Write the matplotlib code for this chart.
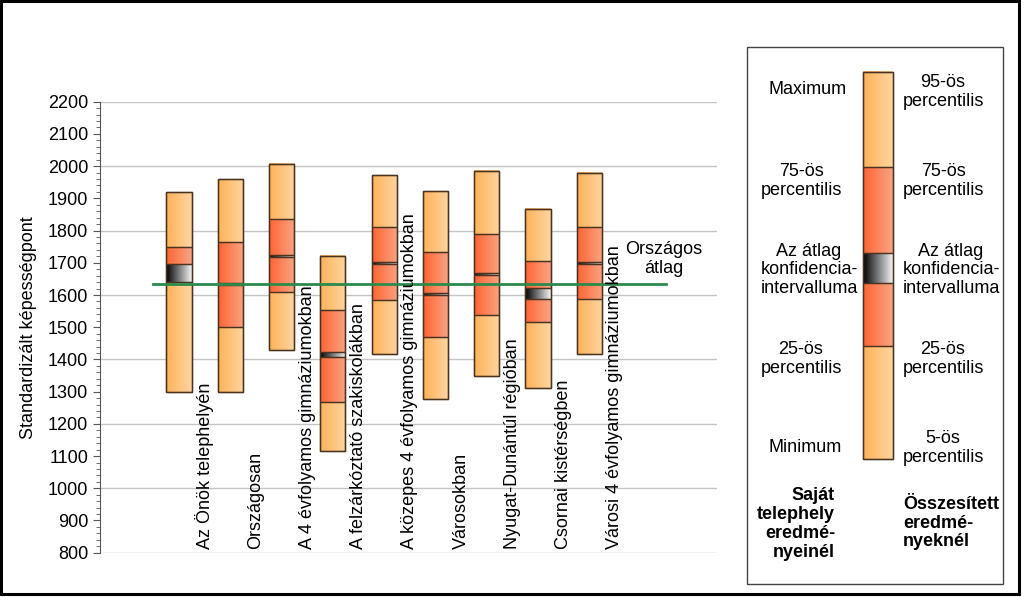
import numpy as np
import matplotlib
matplotlib.use("Agg")
import matplotlib.pyplot as plt
from matplotlib.colors import LinearSegmentedColormap
from matplotlib.patches import Rectangle
from matplotlib.ticker import MultipleLocator

plt.rcParams['font.family'] = ['Liberation Sans', 'DejaVu Sans']
plt.rcParams['font.size'] = 13

categories = [
    "Az Önök telephelyén",
    "Országosan",
    "A 4 évfolyamos gimnáziumokban",
    "A felzárkóztató szakiskolákban",
    "A közepes 4 évfolyamos gimnáziumokban",
    "Városokban",
    "Nyugat-Dunántúl régióban",
    "Csornai kistérségben",
    "Városi 4 évfolyamos gimnáziumokban",
]
low = [1298, 1300, 1429, 1116, 1418, 1278, 1350, 1310, 1417]
p25 = [1639, 1500, 1610, 1267, 1586, 1470, 1537, 1515, 1588]
ci_low = [1639, 1630, 1718, 1406, 1695, 1600, 1662, 1587, 1695]
ci_high = [1695, 1636, 1724, 1424, 1701, 1606, 1668, 1621, 1701]
p75 = [1750, 1765, 1835, 1553, 1811, 1734, 1788, 1706, 1810]
high = [1920, 1960, 2007, 1721, 1971, 1922, 1986, 1868, 1978]
national_avg = 1633

LIGHT = ('#FDB25A', '#FED59F')
RED = ('#FF6433', '#F8A483')
CI = ('#000000', '#F4F4F4')
EDGE = '#4a3320'


def grad_rect(ax, x0, x1, y0, y1, colors, z=2):
    if y1 <= y0:
        return
    cmap = LinearSegmentedColormap.from_list('g', list(colors))
    ax.imshow(np.linspace(0, 1, 64).reshape(1, -1), cmap=cmap,
              extent=(x0, x1, y0, y1), aspect='auto', origin='lower',
              interpolation='bilinear', zorder=z)
    ax.add_patch(Rectangle((x0, y0), x1 - x0, y1 - y0, fill=False,
                           edgecolor=EDGE, lw=0.9, zorder=z + 0.5))


def draw_box(ax, x, w, lo, q1, cl, ch, q3, hi):
    x0, x1 = x - w / 2, x + w / 2
    grad_rect(ax, x0, x1, lo, q1, LIGHT)
    grad_rect(ax, x0, x1, q1, cl, RED)
    grad_rect(ax, x0, x1, cl, ch, CI)
    grad_rect(ax, x0, x1, ch, q3, RED)
    grad_rect(ax, x0, x1, q3, hi, LIGHT)
    ax.add_patch(Rectangle((x0, lo), w, hi - lo, fill=False,
                           edgecolor=EDGE, lw=1.0, zorder=4))


fig = plt.figure(figsize=(10.24, 5.97), dpi=100)
ax = fig.add_axes([0.0977, 0.0742, 0.6025, 0.7554])

xs = np.arange(len(categories))
for i in xs:
    draw_box(ax, i, 0.49, low[i], p25[i], ci_low[i], ci_high[i], p75[i], high[i])
    ax.text(i + 0.5, 812, categories[i], rotation=90, ha='center', va='bottom',
            fontsize=13, zorder=6)

# national average line
ax.plot([-0.5, 9.5], [national_avg, national_avg], color='#2b8a4c', lw=2.0, zorder=5)
ax.text(9.45, 1712, "Országos\nátlag", ha='center', va='center', fontsize=13,
        linespacing=1.15)

ax.set_xlim(-1.54, 10.49)
ax.set_ylim(800, 2200)
ax.yaxis.set_minor_locator(MultipleLocator(20))
ax.set_yticks(np.arange(800, 2201, 100))
for yv in range(800, 2201, 200):
    ax.axhline(yv, color='#c4c4c4', lw=1.0, zorder=0)
ax.set_xticks([])
for s in ['top', 'right', 'bottom']:
    ax.spines[s].set_visible(False)
ax.spines['left'].set_color('#555555')
ax.tick_params(axis='y', which='major', length=5, color='#555555', labelsize=13)
ax.tick_params(axis='y', which='minor', length=3, color='#555555')
ax.set_ylabel("Standardizált képességpont", fontsize=13, labelpad=8)

# legend panel, drawn in pixel coordinates
lg = fig.add_axes([0, 0, 1, 1])
lg.set_xlim(0, 1024)
lg.set_ylim(597, 0)
lg.axis('off')
lg.add_patch(Rectangle((747, 47), 256, 537, fill=False, edgecolor='#444444', lw=1.0))
bx0, bx1 = 863, 893
grad_rect(lg, bx0, bx1, 345.7, 459.3, LIGHT)
grad_rect(lg, bx0, bx1, 283.3, 345.7, RED)
grad_rect(lg, bx0, bx1, 253.3, 283.3, CI)
grad_rect(lg, bx0, bx1, 167.3, 253.3, RED)
grad_rect(lg, bx0, bx1, 71.7, 167.3, LIGHT)
lg.add_patch(Rectangle((bx0, 71.7), bx1 - bx0, 459.3 - 71.7, fill=False,
                       edgecolor=EDGE, lw=1.0, zorder=4))

left_txt = [("Maximum", 808, 90), ("75-ös\npercentilis", 801, 181),
            ("Az átlag\nkonfidencia-\nintervalluma", 809, 270),
            ("25-ös\npercentilis", 801, 359), ("Minimum", 805, 447)]
right_txt = [("95-ös\npercentilis", 943, 92), ("75-ös\npercentilis", 943, 181),
             ("Az átlag\nkonfidencia-\nintervalluma", 951, 270),
             ("25-ös\npercentilis", 943, 359), ("5-ös\npercentilis", 943, 448)]
for t, x, y in left_txt + right_txt:
    lg.text(x, y, t, ha='center', va='center', fontsize=13, linespacing=1.15,
            multialignment='center')
lg.text(835, 524, "Saját\ntelephely\neredmé-\nnyeinél", ha='right', va='center', fontsize=13,
        fontweight='bold', linespacing=1.15, multialignment='right')
lg.text(903, 523, "Összesített\neredmé-\nnyeknél", ha='left', va='center', fontsize=13,
        fontweight='bold', linespacing=1.15)

# outer frame
lg.plot([1, 1, 1019, 1019, 1], [594, 1, 1, 594, 594], color='black', lw=2.2,
        solid_joinstyle='miter', clip_on=False)

fig.savefig("out.png", dpi=100)
